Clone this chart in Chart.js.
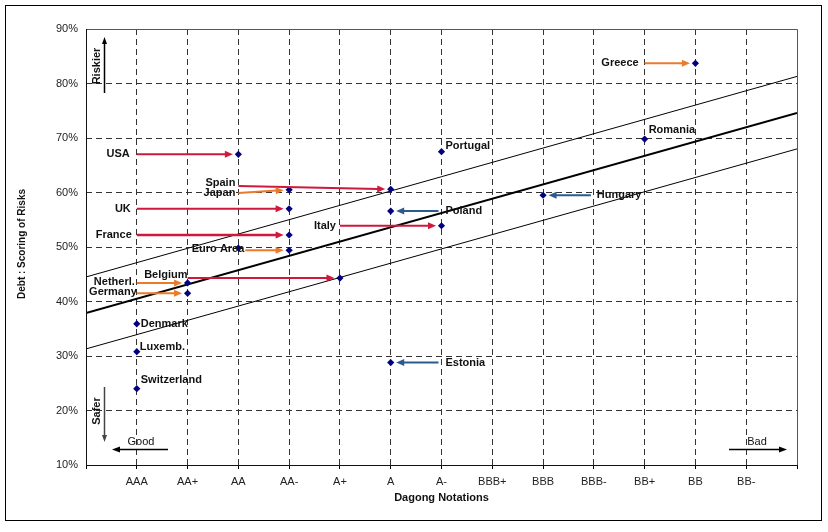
<!DOCTYPE html>
<html><head><meta charset="utf-8">
<script src="https://cdn.jsdelivr.net/npm/chart.js@4.4.0/dist/chart.umd.min.js"></script>
<style>html,body{margin:0;padding:0;background:#fff}canvas{display:block}</style>
</head><body>
<canvas id="c" width="828" height="532"></canvas>
<script>
// ---- data ----
const ratings = ['AAA','AA+','AA','AA-','A+','A','A-','BBB+','BBB','BBB-','BB+','BB','BB-'];
const countries = ['USA','Spain','Japan','UK','France','Euro Area','Belgium','Netherl.','Germany','Denmark','Luxemb.','Switzerland','Portugal','Poland','Italy','Estonia','Hungary','Romania','Greece'];
const rating    = [2, 5, 3, 3, 3, 3, 4, 1, 1, 0, 0, 0, 6, 5, 6, 5, 8, 10, 11];
const riskScore = [67.0, 60.6, 60.5, 57.0, 52.2, 49.4, 44.3, 43.4, 41.5, 35.9, 30.8, 24.0, 67.5, 56.6, 53.9, 28.8, 59.5, 69.8, 83.7];
const prevRating = [0, 2, 2, 0, 0, 2, 1, 0, 0, null, null, null, null, 6, 4, 6, 9, null, 10];
const prevScore  = [67.0, 61.2, 59.9, 57.0, 52.2, 49.4, 44.3, 43.4, 41.5, null, null, null, null, 56.6, 53.9, 28.8, 59.5, null, 83.7];
const euroPrevRating = [2];
const euroPrevScore = [49.8];
const lineX = [-1, 13];
const fitLine = [37.9, 74.6];
const upperBand = [44.5, 81.3];
const lowerBand = [31.3, 68.0];
const yTickValues = [10, 20, 30, 40, 50, 60, 70, 80, 90];

// ---- styles ----
const arrowKind = ['r','r','o','r','r','o','r','o','o',null,null,null,null,'b','r','b','b',null,'o'];
const arrowColors = {r:'#d0183c', o:'#ec7a2c', b:'#2b5b8c'};
const labelOffset = {
  'USA':[-7,0,'right'], 'Spain':[-3,-3,'right'], 'Japan':[-3,0,'right'], 'UK':[-6,0,'right'],
  'France':[-5,0,'right'], 'Euro Area':[6,-1,'right'], 'Belgium':[0,-3,'right'],
  'Netherl.':[-2,-1,'right'], 'Germany':[0,-1,'right'], 'Denmark':[4,0,'left'],
  'Luxemb.':[3,-5,'left'], 'Switzerland':[4,-9,'left'], 'Portugal':[4,-6,'left'],
  'Poland':[4,0,'left'], 'Italy':[-4,0,'right'], 'Estonia':[4,0,'left'],
  'Hungary':[3,0,'left'], 'Romania':[4,-9,'left'], 'Greece':[-6,0,'right']
};
const FONT = '"Liberation Sans", Arial, sans-serif';
Chart.defaults.font.family = FONT;

const mkLine = (vals) => lineX.map((x, i) => ({x, y: vals[i]}));

function arrow(ctx, x0, y0, x1, y1, col, lw, head, hw) {
  const ang = Math.atan2(y1 - y0, x1 - x0), c = Math.cos(ang), s = Math.sin(ang);
  const bx = x1 - c * head, by = y1 - s * head;
  ctx.strokeStyle = col; ctx.fillStyle = col; ctx.lineWidth = lw;
  ctx.beginPath(); ctx.moveTo(x0, y0); ctx.lineTo(bx + c, by + s); ctx.stroke();
  ctx.beginPath(); ctx.moveTo(x1, y1);
  ctx.lineTo(bx - s * hw, by + c * hw); ctx.lineTo(bx + s * hw, by - c * hw);
  ctx.closePath(); ctx.fill();
}

const overlay = {
  id: 'overlay',
  beforeDraw(chart) {
    const c = chart.ctx; c.save(); c.fillStyle = '#fff'; c.fillRect(0, 0, chart.width, chart.height); c.restore();
  },
  afterDatasetsDraw(chart) {
    const {ctx, scales: {x, y}, chartArea: a} = chart;
    ctx.save();
    // arrows
    countries.forEach((name, i) => {
      if (prevRating[i] == null) return;
      let x0 = x.getPixelForValue(prevRating[i]), y0 = y.getPixelForValue(prevScore[i]);
      const x1 = x.getPixelForValue(rating[i]), y1 = y.getPixelForValue(riskScore[i]);
      const dir = Math.sign(x1 - x0);
      if (dir < 0) x0 -= 3;
      if (name === 'Euro Area') x0 += 7;
      const ang = Math.atan2(y1 - y0, x1 - x0);
      const tx = x1 - Math.cos(ang) * 5.5, ty = y1 - Math.sin(ang) * 5.5;
      arrow(ctx, x0, y0, tx, ty, arrowColors[arrowKind[i]], name === 'France' ? 2.5 : 2, 8, 3.5);
    });
    // labels
    ctx.font = 'bold 11px ' + FONT; ctx.fillStyle = '#111'; ctx.textBaseline = 'middle';
    countries.forEach((name, i) => {
      let ax, ay;
      if (prevRating[i] != null) { ax = x.getPixelForValue(prevRating[i]); ay = y.getPixelForValue(prevScore[i]); }
      else { ax = x.getPixelForValue(rating[i]); ay = y.getPixelForValue(riskScore[i]); }
      const o = labelOffset[name];
      ctx.textAlign = o[2];
      ctx.fillText(name, ax + o[0], ay + o[1]);
    });
    // plot frame
    ctx.lineWidth = 1; ctx.strokeStyle = '#555';
    ctx.beginPath(); ctx.moveTo(a.left, a.top + 0.5); ctx.lineTo(a.right + 0.5, a.top + 0.5); ctx.lineTo(a.right + 0.5, a.bottom); ctx.stroke();
    ctx.strokeStyle = '#111';
    ctx.beginPath(); ctx.moveTo(a.left + 0.5, a.top); ctx.lineTo(a.left + 0.5, a.bottom + 0.5); ctx.lineTo(a.right + 1, a.bottom + 0.5); ctx.stroke();
    ctx.restore();
  },
  afterDraw(chart) {
    const {ctx, chartArea: a} = chart;
    ctx.save();
    // outer frame
    ctx.strokeStyle = '#000'; ctx.lineWidth = 1;
    ctx.strokeRect(5.5, 5.5, 816, 515);
    // axis titles
    ctx.fillStyle = '#111'; ctx.textAlign = 'center'; ctx.textBaseline = 'middle';
    ctx.font = 'bold 11px ' + FONT;
    ctx.fillText('Dagong Notations', (a.left + a.right) / 2, 498);
    ctx.save(); ctx.translate(22, (a.top + a.bottom) / 2 - 3); ctx.rotate(-Math.PI / 2);
    ctx.font = 'bold 10px ' + FONT; ctx.fillText('Debt : Scoring of Risks', 0, 0); ctx.restore();
    // Riskier / Safer
    ctx.font = 'bold 11px ' + FONT;
    ctx.save(); ctx.translate(a.left + 11, a.top + 37); ctx.rotate(-Math.PI / 2); ctx.fillText('Riskier', 0, 0); ctx.restore();
    ctx.save(); ctx.translate(a.left + 11, a.bottom - 54); ctx.rotate(-Math.PI / 2); ctx.fillText('Safer', 0, 0); ctx.restore();
    arrow(ctx, a.left + 18.5, a.top + 64, a.left + 18.5, a.top + 8, '#000', 1.5, 7, 2.5);
    arrow(ctx, a.left + 18.5, a.bottom - 78, a.left + 18.5, a.bottom - 23, '#444', 1.5, 7, 2.5);
    // Good / Bad
    ctx.font = '11px ' + FONT; ctx.fillStyle = '#111';
    ctx.fillText('Good', a.left + 55, a.bottom - 23);
    ctx.fillText('Bad', a.right - 40, a.bottom - 23);
    arrow(ctx, a.left + 82, a.bottom - 15.5, a.left + 26, a.bottom - 15.5, '#000', 1.5, 8, 3);
    arrow(ctx, a.right - 68, a.bottom - 15.5, a.right - 10, a.bottom - 15.5, '#000', 1.5, 8, 3);
    ctx.restore();
  }
};

new Chart(document.getElementById('c'), {
  type: 'scatter',
  data: {
    datasets: [
      {type: 'line', label: 'Fit', data: mkLine(fitLine), borderColor: '#000', borderWidth: 2, pointRadius: 0, order: 5},
      {type: 'line', label: 'Upper', data: mkLine(upperBand), borderColor: '#000', borderWidth: 1, pointRadius: 0, order: 5},
      {type: 'line', label: 'Lower', data: mkLine(lowerBand), borderColor: '#000', borderWidth: 1, pointRadius: 0, order: 5},
      {label: 'Euro Area (prev)', data: euroPrevRating.map((v, i) => ({x: v, y: euroPrevScore[i]})),
        pointStyle: 'rectRot', pointRadius: 3.6, backgroundColor: '#000080', borderColor: '#000080', borderWidth: 0, order: 1},
      {label: 'Countries', data: countries.map((c, i) => ({x: rating[i], y: riskScore[i]})),
        pointStyle: 'rectRot', pointRadius: 3.6, backgroundColor: '#000080', borderColor: '#000080', borderWidth: 0, order: 1}
    ]
  },
  options: {
    responsive: false, animation: false, events: [],
    layout: {padding: {left: 0, top: 29, right: 31, bottom: 0}},
    plugins: {legend: {display: false}, tooltip: {enabled: false}},
    scales: {
      x: {
        type: 'linear', min: -1, max: 13,
        afterFit(s) { s.height = 67; },
        ticks: {stepSize: 1, autoSkip: false, maxRotation: 0, padding: 6, color: '#222',
          font: {size: 11}, callback: v => ratings[v] ?? ''},
        grid: {color: c => (c.tick && (c.tick.value <= -1 || c.tick.value >= 13)) ? 'rgba(0,0,0,0)' : '#333',
          lineWidth: 1, drawTicks: true, tickLength: 4, tickColor: '#000', tickBorderDash: []},
        border: {display: false, dash: [6, 4]}
      },
      y: {
        min: 10, max: 90,
        afterFit(s) { s.width = 86; },
        afterBuildTicks(s) { s.ticks = yTickValues.map(v => ({value: v})); },
        ticks: {padding: 8, color: '#222', font: {size: 11}, callback: v => v + '%'},
        grid: {color: c => (c.tick && (c.tick.value <= 10 || c.tick.value >= 90)) ? 'rgba(0,0,0,0)' : '#333',
          lineWidth: 1, drawTicks: false},
        border: {display: false, dash: [6, 4]}
      }
    }
  },
  plugins: [overlay]
});
</script>
</body></html>
